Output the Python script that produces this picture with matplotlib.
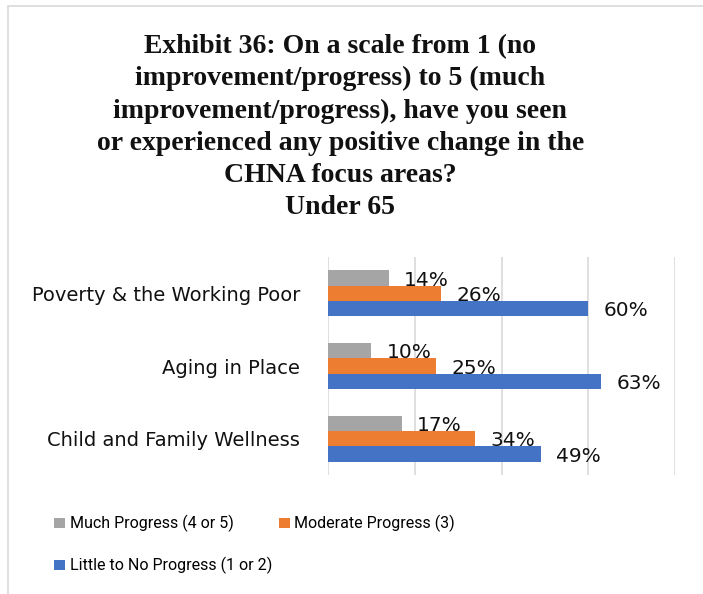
import matplotlib.pyplot as plt
import numpy as np
from matplotlib.patches import Rectangle

# data
categories = ["Poverty & the Working Poor", "Aging in Place", "Child and Family Wellness"]
series_names = ["Much Progress (4 or 5)", "Moderate Progress (3)", "Little to No Progress (1 or 2)"]
much = [14, 10, 17]
moderate = [26, 25, 34]
little = [60, 63, 49]
colors = ["#A5A5A5", "#ED7D31", "#4472C4"]

title = ("Exhibit 36: On a scale from 1 (no\nimprovement/progress) to 5 (much\n"
         "improvement/progress), have you seen\nor experienced any positive change in the\n"
         "CHNA focus areas?\nUnder 65")

fig = plt.figure(figsize=(7.03, 5.94), dpi=100)
ax = fig.add_axes([0.4666, 0.2003, 0.4936, 0.3670])

# light chart border
fig.add_artist(Rectangle((8 / 703, -0.01), 1.0, 1 - 6 / 594 + 0.01, transform=fig.transFigure,
                         fill=False, edgecolor="#D9D9D9", linewidth=1.2))

y = np.arange(len(categories))
h = 0.21
values = [much, moderate, little]
offsets = [-h, 0, h]
for vals, off, col, name in zip(values, offsets, colors, series_names):
    bars = ax.barh(y + off, vals, height=h, color=col, label=name, zorder=3)
    for b, v in zip(bars, vals):
        ax.annotate(f"{v}%", (b.get_width(), b.get_y() + b.get_height() / 2),
                    xytext=(11, -1.5), textcoords="offset points", ha="left", va="center",
                    fontsize=14.5, family="DejaVu Sans", color="#111111", zorder=4)

ax.set_xlim(0, 80)
ax.set_ylim(len(categories) - 0.5, -0.5)
ax.set_xticks([0, 20, 40, 60, 80])
ax.xaxis.grid(True, color="#D9D9D9", linewidth=1.2, zorder=0)
ax.tick_params(axis="x", which="both", bottom=False, labelbottom=False)
ax.tick_params(axis="y", length=0, pad=20)
ax.set_yticks(y)
ax.set_yticklabels(categories, fontsize=14, family="DejaVu Sans", color="#111111")
for s in ax.spines.values():
    s.set_visible(False)

fig.text(0.484, 0.943, title, ha="center", va="top", fontsize=20, fontweight="bold",
         family="Liberation Serif", linespacing=1.38, color="#111111")

# legend fills row-wise in the reference, matplotlib fills by column
handles, labels = ax.get_legend_handles_labels()
order = [0, 2, 1]
fig.legend([handles[i] for i in order], [labels[i] for i in order], loc="upper left",
           bbox_to_anchor=(0.057, 0.157), ncol=2,
           frameon=False, prop={"family": "Roboto", "size": 11.5}, handlelength=0.65,
           handleheight=0.65, handletextpad=0.3, columnspacing=0.45, labelspacing=1.55)

fig.savefig("out.png", dpi=100)
